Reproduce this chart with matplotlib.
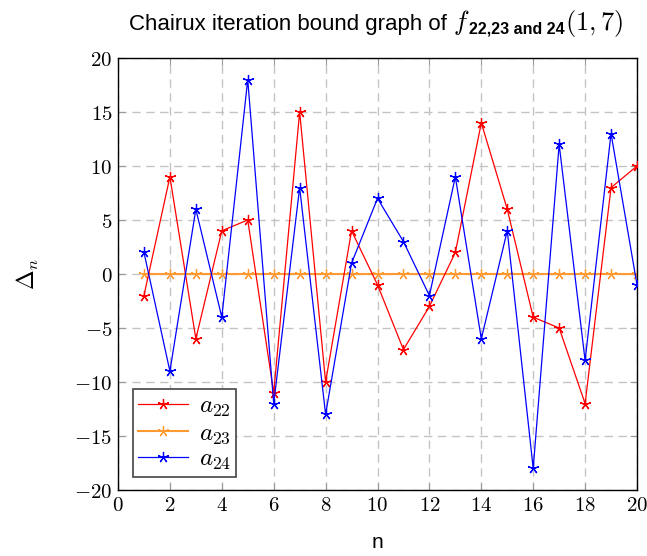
import matplotlib
matplotlib.use("Agg")
import matplotlib.pyplot as plt

plt.rcParams['mathtext.fontset'] = 'cm'
plt.rcParams['font.family'] = ['Liberation Sans', 'DejaVu Sans']

n = list(range(1, 21))
a22 = [-2, 9, -6, 4, 5, -11, 15, -10, 4, -1, -7, -3, 2, 14, 6, -4, -5, -12, 8, 10]
a23 = [0] * 20
a24 = [2, -9, 6, -4, 18, -12, 8, -13, 1, 7, 3, -2, 9, -6, 4, -18, 12, -8, 13, -1]

fig = plt.figure(figsize=(6.47, 5.56), dpi=100)
ax = fig.add_axes([118 / 647, 1 - 490 / 556, (637 - 118) / 647, (490 - 58) / 556])

star = (5, 2, 0)
ax.plot(n, a22, color='red', lw=0.9, marker=star, ms=8, mew=0.9, label='$a_{22}$', zorder=3)
ax.plot(n, a23, color='#ff9a33', lw=1.5, marker=star, ms=8, mew=0.9, label='$a_{23}$', zorder=2)
ax.plot(n, a24, color='blue', lw=0.9, marker=star, ms=8, mew=0.9, label='$a_{24}$', zorder=3)

ax.set_xlim(0, 20)
ax.set_ylim(-20, 20)
ax.set_xticks(range(0, 21, 2))
ax.set_yticks(range(-20, 21, 5))
ax.set_xticklabels(['$%d$' % v for v in range(0, 21, 2)])
ax.set_yticklabels(['$%d$' % v for v in range(-20, 21, 5)])
ax.tick_params(direction='in', length=5, color='#999999', labelsize=15, top=True, right=True, pad=4)
for s in ax.spines.values():
    s.set_linewidth(1.0)
ax.grid(True, color='#c4c4c4', linestyle=(0, (6, 4)), lw=1.0)
ax.set_axisbelow(True)

ax.set_xlabel('n', fontsize=15, labelpad=13)
ax.set_ylabel(r'$\Delta_n$', fontsize=17, labelpad=24)

leg = ax.legend(loc='lower left', bbox_to_anchor=(0.028, 0.03), fontsize=18, fancybox=False,
                edgecolor='#444444', framealpha=1, handlelength=2.0, handletextpad=0.45,
                borderpad=0.2, labelspacing=0.05, borderaxespad=0)
leg.get_frame().set_linewidth(1.2)

# title built from pieces: sans text + math f + bold sans subscript + math (1,7)
fig.canvas.draw()
renderer = fig.canvas.get_renderer()
ybase = 1 - 30 / 556
pieces = [
    ('Chairux iteration bound graph of ', dict(fontsize=16), 0),
    ('$f$', dict(fontsize=19), 0),
    ('22,23 and 24', dict(fontsize=11.5, fontweight='bold'), -4),
    ('$(1,7)$', dict(fontsize=19), 0),
]
texts = []
x = 0
for s, kw, dy in pieces:
    t = fig.text(x, ybase + dy / 556, s, va='baseline', ha='left', **kw)
    bb = t.get_window_extent(renderer)
    texts.append((t, x, dy))
    x += bb.width / 647
shift = (376 / 647) - x / 2
for t, x0, dy in texts:
    t.set_position((x0 + shift, ybase + dy / 556))

fig.savefig('out.png', dpi=100)
